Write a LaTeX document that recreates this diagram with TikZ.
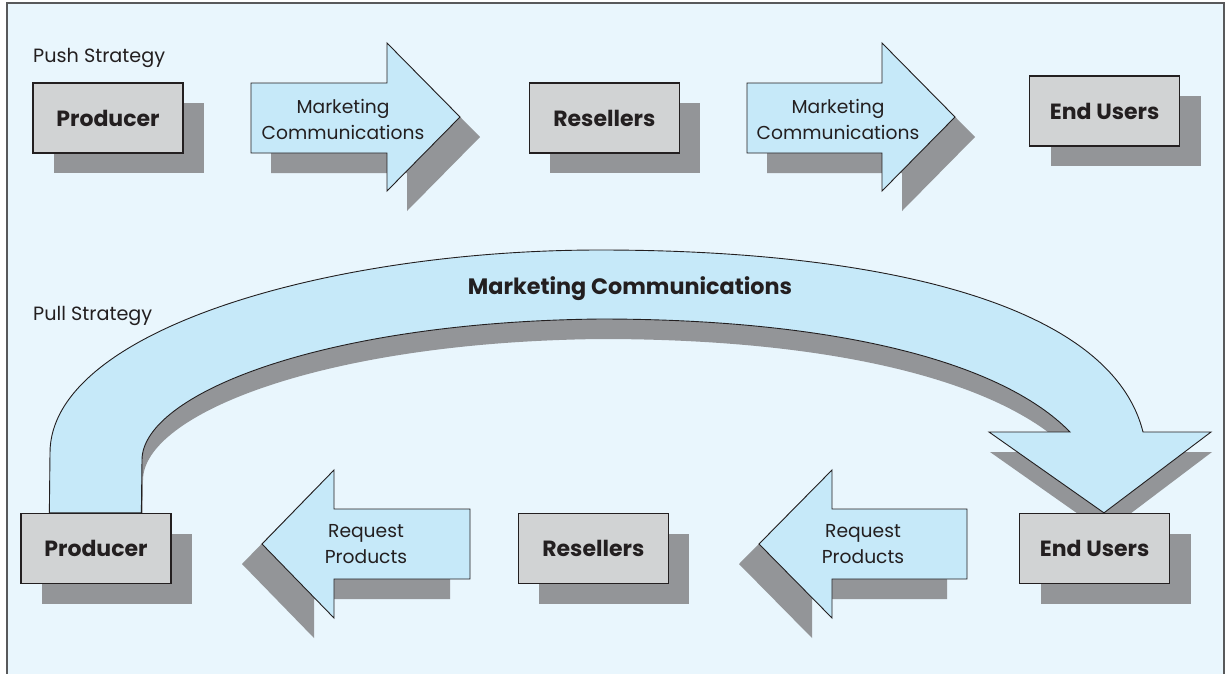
\documentclass[tikz,border=0pt]{standalone}
\usepackage{fontspec}
\setmainfont{Poppins}
\usepackage{tikz}
\usetikzlibrary{shapes,arrows,positioning,shadows,backgrounds}
\definecolor{skyback}{RGB}{233, 246, 253}
\definecolor{arrowblue}{RGB}{198, 233, 249}
\definecolor{boxgray}{RGB}{209, 211, 212}
\definecolor{shadegray}{RGB}{147, 149, 152}
\definecolor{ink}{RGB}{35, 31, 32}
\definecolor{framegray}{RGB}{88, 89, 91}
\tikzstyle{party} = [rectangle, draw=ink, line width=1.3pt, fill=boxgray, text=ink, text centered, font=\fontsize{22pt}{26pt}\selectfont\bfseries, minimum width=150pt, minimum height=70pt, inner sep=0pt, drop shadow={shadow xshift=21pt, shadow yshift=-20pt, fill=shadegray, opacity=1}]
\tikzstyle{flowright} = [draw=ink, line width=0.9pt, fill=arrowblue, drop shadow={shadow xshift=20pt, shadow yshift=-20pt, fill=shadegray, opacity=1}]
\tikzstyle{flowleft} = [draw=ink, line width=0.9pt, fill=arrowblue, drop shadow={shadow xshift=-20pt, shadow yshift=-20pt, fill=shadegray, opacity=1}]
\tikzstyle{bigflow} = [draw=ink, line width=0.9pt, fill=arrowblue, drop shadow={shadow xshift=1pt, shadow yshift=-20pt, fill=shadegray, opacity=1}]
\tikzstyle{flowtext} = [draw=none, fill=none, text=ink, align=center, font=\fontsize{18.7pt}{26pt}\selectfont]
\tikzstyle{strategy} = [draw=none, fill=none, text=ink, anchor=base west, inner sep=0pt, font=\fontsize{19.2pt}{22pt}\selectfont]

\begin{document}
\begin{tikzpicture}[x=1pt, y=1pt]
\useasboundingbox (0,0) rectangle (1227,-673);

% push strategy =============================
\node[strategy] (push) at (33,-62) {Push Strategy};
\node[party] (prod1) at (108,-118) {Producer};
\node[party, right=345pt of prod1] (resel1) {Resellers};
\node[party, right=349pt of resel1, yshift=7pt] (users1) {End Users};

% pull strategy =============================
\node[strategy] (pull) at (33,-320) {Pull Strategy};
\node[party] (prod2) at (96,-548.5) {Producer};
\node[party, right=346pt of prod2] (resel2) {Resellers};
\node[party, right=350pt of resel2] (users2) {End Users};

% frame and curved arrow
\begin{scope}[on background layer]
\draw[framegray, line width=2pt, fill=skyback] (7,-700) -- (7,-3) -- (1224,-3) -- (1224,-700);
\path[bigflow] ([xshift=29pt]prod2.north west) -- (50,-453)
  .. controls (50,-330) and (330,-250) .. (600,-250)
  .. controls (870,-250) and (1110,-300) .. (1143,-432)
  -- (1211,-432) -- ([xshift=85pt]users2.north west) -- (989,-432) -- (1070,-432)
  .. controls (1000,-360) and (830,-319) .. (600,-319)
  .. controls (320,-322) and (142,-395) .. (142,-460)
  -- ([xshift=121pt]prod2.north west) -- cycle;
\end{scope}
\node[flowtext, font=\fontsize{22.3pt}{26pt}\selectfont\bfseries] (mc) at (630,-289) {Marketing Communications};

% block arrows
\path[flowright] (251,-83) -- (387,-83) -- (387,-43) -- (460,-117) -- (387,-191) -- (387,-153) -- (251,-153) -- cycle;
\path[flowright] (747,-83) -- (882,-83) -- (882,-43) -- (955,-117) -- (882,-191) -- (882,-153) -- (747,-153) -- cycle;
\path[flowleft] (470,-509) -- (334,-509) -- (334,-470) -- (262,-544) -- (334,-618) -- (334,-579) -- (470,-579) -- cycle;
\path[flowleft] (967,-509) -- (832,-509) -- (832,-470) -- (759,-544) -- (832,-618) -- (832,-579) -- (967,-579) -- cycle;

% arrow texts
\node[flowtext] (mc1) at (343,-119) {Marketing\\Communications};
\node[flowtext] (mc2) at (838,-119) {Marketing\\Communications};
\node[flowtext] (rp1) at (366,-544) {Request\\Products};
\node[flowtext] (rp2) at (863,-544) {Request\\Products};

\end{tikzpicture}
\end{document}
